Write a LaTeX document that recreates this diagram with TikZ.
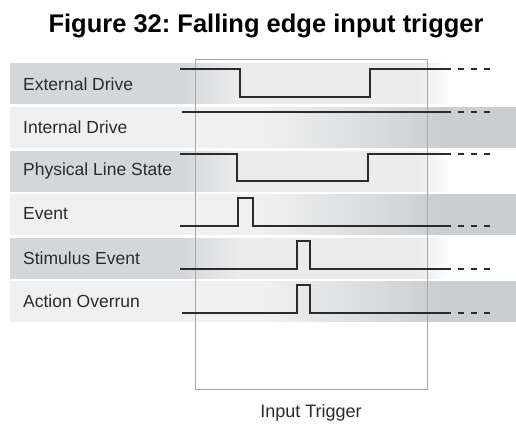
\documentclass[tikz,border=0pt]{standalone}
\usepackage{fontspec}
\setmainfont{Liberation Sans}
\usetikzlibrary{positioning}
\frenchspacing
\definecolor{ink}{HTML}{2B2B2B}
\definecolor{frame}{HTML}{A8A8A8}
\definecolor{bandgray}{HTML}{D4D7DA}
\definecolor{bandlight}{HTML}{EBEBEB}
\definecolor{evlight}{HTML}{F0F0F0}
\definecolor{evgray}{HTML}{CBCED1}
\pgfdeclarehorizontalshading{oddband}{100bp}{color(0bp)=(bandgray); color(42bp)=(bandgray); color(47.5bp)=(bandlight); color(65.5bp)=(bandlight); color(68.5bp)=(white); color(100bp)=(white)}
\pgfdeclarehorizontalshading{evenband}{100bp}{color(0bp)=(evlight); color(50bp)=(evlight); color(67.5bp)=(evgray); color(100bp)=(evgray)}
\tikzset{oddrow/.style={shading=oddband},evenrow/.style={shading=evenband},lbl/.style={anchor=west,font=\fontsize{17.5}{20}\selectfont,text=ink,inner sep=0pt},sig/.style={draw=ink,line width=1.6pt,line join=miter},tail/.style={draw=ink,line width=1.6pt,dash pattern=on 6pt off 7pt},window/.style={draw=frame,line width=1pt}}

\begin{document}
\begin{tikzpicture}[x=1pt,y=-1pt]
\useasboundingbox (0,0) rectangle (516,425);
\node[font=\fontsize{25.5}{28}\selectfont\bfseries,text=black] (title) at (266,26) {Figure 32: Falling edge input trigger};
% bands
\shade[oddrow] (10,64) rectangle (516,104);
\shade[evenrow] (10,107.5) rectangle (516,147.5);
\shade[oddrow] (10,151) rectangle (516,191);
\shade[evenrow] (10,194) rectangle (516,234);
\shade[oddrow] (10,238) rectangle (516,278);
\shade[evenrow] (10,281.5) rectangle (516,321.5);
% trigger window
\draw[window] (195,60) rectangle (427,389);
\node[font=\fontsize{18}{20}\selectfont,text=ink] (triglbl) at (311,413) {Input Trigger};
% signals
\draw[sig] (180,69)--(240,69)--(240,97)--(370,97)--(370,69)--(445,69);
\draw[tail] (445,69)--(490,69);
\draw[sig] (182,112)--(445,112);
\draw[tail] (445,112)--(490,112);
\draw[sig] (180,154)--(237,154)--(237,181)--(368,181)--(368,154)--(445,154);
\draw[tail] (445,154)--(490,154);
\draw[sig] (180,226)--(238,226)--(238,198)--(253,198)--(253,226)--(445,226);
\draw[tail] (445,226)--(490,226);
\draw[sig] (180,269)--(297,269)--(297,241)--(310,241)--(310,269)--(445,269);
\draw[tail] (445,269)--(490,269);
\draw[sig] (182,313)--(297,313)--(297,285)--(310,285)--(310,313)--(445,313);
\draw[tail] (445,313)--(490,313);
% labels
\node[lbl] (extlbl) at (23,84) {External Drive};
\node[lbl] (intlbl) at (23,127.5) {Internal Drive};
\node[lbl] (physlbl) at (23,171) {Physical Line State};
\node[lbl] (eventlbl) at (23,214) {Event};
\node[lbl] (stimlbl) at (23,258) {Stimulus Event};
\node[lbl] (overlbl) at (23,301.5) {Action Overrun};
\end{tikzpicture}
\end{document}
